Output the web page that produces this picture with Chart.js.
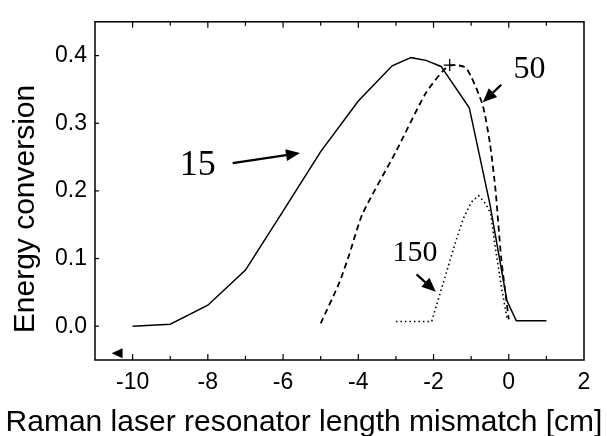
<!DOCTYPE html>
<html><head><meta charset="utf-8">
<script src="https://cdn.jsdelivr.net/npm/chart.js@4.4.1/dist/chart.umd.min.js"></script>
<style>html,body{margin:0;padding:0;background:#fff;}</style>
</head><body>
<canvas id="c" width="607" height="436"></canvas>
<script>
// ---- data ----
const xTicks = [-10, -8, -6, -4, -2, 0, 2];
const yTicks = [0.0, 0.1, 0.2, 0.3, 0.4];

const x15 = [-10, -9, -8, -7, -6, -5, -4, -3.1, -2.6, -2.2, -1.8, -1.05, -0.5, -0.05, 0.2, 1.0];
const y15 = [0.000, 0.003, 0.031, 0.083, 0.170, 0.258, 0.333, 0.385, 0.397, 0.393, 0.384, 0.323, 0.180, 0.038, 0.008, 0.008];

const x50 = [-5, -4.5, -4.24, -3.89, -3.0, -2.2, -1.6, -1.14, -0.7, -0.5, -0.35, -0.2, 0.0];
const y50 = [0.004, 0.065, 0.106, 0.166, 0.258, 0.345, 0.385, 0.382, 0.328, 0.270, 0.200, 0.100, 0.010];

const x150 = [-3, -2.05, -1.4, -1.2, -1.0, -0.8, -0.6, -0.48, -0.35, -0.2, -0.04];
const y150 = [0.007, 0.007, 0.127, 0.160, 0.183, 0.193, 0.180, 0.166, 0.113, 0.060, 0.009];

const markerX = [-1.57];
const markerY = [0.386];

const curveLabels = ["15", "50", "150"];
const xTitle = "Raman laser resonator length mismatch [cm]";
const yTitle = "Energy conversion";

const pts = (xs, ys) => xs.map((x, i) => ({x: x, y: ys[i]}));

// annotations (in data coordinates)
const notes = [
  {text: curveLabels[0], x: -8.27, y: 0.2375, size: 36, from: [-7.34, 0.241], to: [-5.55, 0.256]},
  {text: curveLabels[1], x: 0.55, y: 0.380, size: 32, from: [-0.20, 0.357], to: [-0.69, 0.331]},
  {text: curveLabels[2], x: -2.49, y: 0.108, size: 30, from: [-2.45, 0.0765], to: [-1.94, 0.051]}
];

const decor = {
  id: 'decor',
  afterDatasetsDraw(chart) {
    const ctx = chart.ctx, a = chart.chartArea;
    const xs = chart.scales.x, ys = chart.scales.y;
    ctx.save();
    ctx.strokeStyle = '#000'; ctx.fillStyle = '#000';
    // frame
    ctx.lineWidth = 1.5;
    ctx.strokeRect(a.left, a.top, a.right - a.left, a.bottom - a.top);
    // inward ticks
    ctx.lineWidth = 1.2;
    for (let v = -10; v <= 1; v++) {
      const px = xs.getPixelForValue(v);
      const len = (v % 2 === 0) ? 6 : 4;
      ctx.beginPath(); ctx.moveTo(px, a.bottom); ctx.lineTo(px, a.bottom - len); ctx.stroke();
      ctx.beginPath(); ctx.moveTo(px, a.top); ctx.lineTo(px, a.top + len); ctx.stroke();
    }
    yTicks.forEach(v => {
      const py = ys.getPixelForValue(v);
      ctx.beginPath(); ctx.moveTo(a.left, py); ctx.lineTo(a.left + 4, py); ctx.stroke();
    });
    // small left-pointing triangle
    const tx = xs.getPixelForValue(-10.4), ty = ys.getPixelForValue(-0.04);
    ctx.beginPath(); ctx.moveTo(tx - 6, ty); ctx.lineTo(tx + 5, ty - 5); ctx.lineTo(tx + 5, ty + 5); ctx.closePath(); ctx.fill();
    // annotations
    notes.forEach(n => {
      ctx.font = n.size + 'px "Liberation Serif", "Times New Roman", serif';
      ctx.textAlign = 'center'; ctx.textBaseline = 'middle';
      ctx.fillText(n.text, xs.getPixelForValue(n.x), ys.getPixelForValue(n.y));
      const x1 = xs.getPixelForValue(n.from[0]), y1 = ys.getPixelForValue(n.from[1]);
      const x2 = xs.getPixelForValue(n.to[0]), y2 = ys.getPixelForValue(n.to[1]);
      const ang = Math.atan2(y2 - y1, x2 - x1);
      const hl = 14, hw = 6;
      const bx = x2 - hl * Math.cos(ang), by = y2 - hl * Math.sin(ang);
      ctx.lineWidth = 2.2;
      ctx.beginPath(); ctx.moveTo(x1, y1); ctx.lineTo(bx, by); ctx.stroke();
      ctx.beginPath();
      ctx.moveTo(x2, y2);
      ctx.lineTo(bx + hw * Math.sin(ang), by - hw * Math.cos(ang));
      ctx.lineTo(bx - hw * Math.sin(ang), by + hw * Math.cos(ang));
      ctx.closePath(); ctx.fill();
    });
    // axis titles
    ctx.font = '30px "Liberation Sans", Arial, sans-serif';
    ctx.textAlign = 'center'; ctx.textBaseline = 'alphabetic';
    ctx.fillText(xTitle, 304, 431);
    ctx.translate(34, 209); ctx.rotate(-Math.PI / 2);
    ctx.fillText(yTitle, 0, 0);
    ctx.restore();
  }
};

new Chart(document.getElementById('c'), {
  type: 'line',
  data: {
    datasets: [
      {data: pts(x15, y15), borderColor: '#000', borderWidth: 1.5, pointRadius: 0, tension: 0, fill: false},
      {data: pts(x50, y50), borderColor: '#000', borderWidth: 1.8, borderDash: [6, 4], pointRadius: 0, tension: 0.2, fill: false},
      {data: pts(x150, y150), borderColor: '#000', borderWidth: 1.6, borderDash: [1.5, 3], pointRadius: 0, tension: 0, fill: false},
      {type: 'scatter', data: pts(markerX, markerY), borderColor: '#000', borderWidth: 1.3, pointStyle: 'cross', pointRadius: 6, showLine: false}
    ]
  },
  options: {
    responsive: false,
    animation: false,
    layout: {padding: {top: 16, right: 23, left: 0, bottom: 0}},
    plugins: {legend: {display: false}, tooltip: {enabled: false}},
    scales: {
      x: {
        type: 'linear', min: -11, max: 2,
        afterBuildTicks: s => { s.ticks = xTicks.map(v => ({value: v})); },
        afterFit: s => { s.height = 76; },
        grid: {display: false, drawTicks: false},
        border: {display: false},
        ticks: {color: '#000', padding: 9, maxRotation: 0, autoSkip: false,
                font: {family: '"Liberation Sans", Arial, sans-serif', size: 23},
                callback: v => String(v)}
      },
      y: {
        type: 'linear', min: -0.05, max: 0.45,
        afterBuildTicks: s => { s.ticks = yTicks.map(v => ({value: v})); },
        afterFit: s => { s.width = 95; },
        grid: {display: false, drawTicks: false},
        border: {display: false},
        ticks: {color: '#000', padding: 8, autoSkip: false,
                font: {family: '"Liberation Sans", Arial, sans-serif', size: 23},
                callback: v => Number(v).toFixed(1)}
      }
    }
  },
  plugins: [decor]
});
</script>
</body></html>
